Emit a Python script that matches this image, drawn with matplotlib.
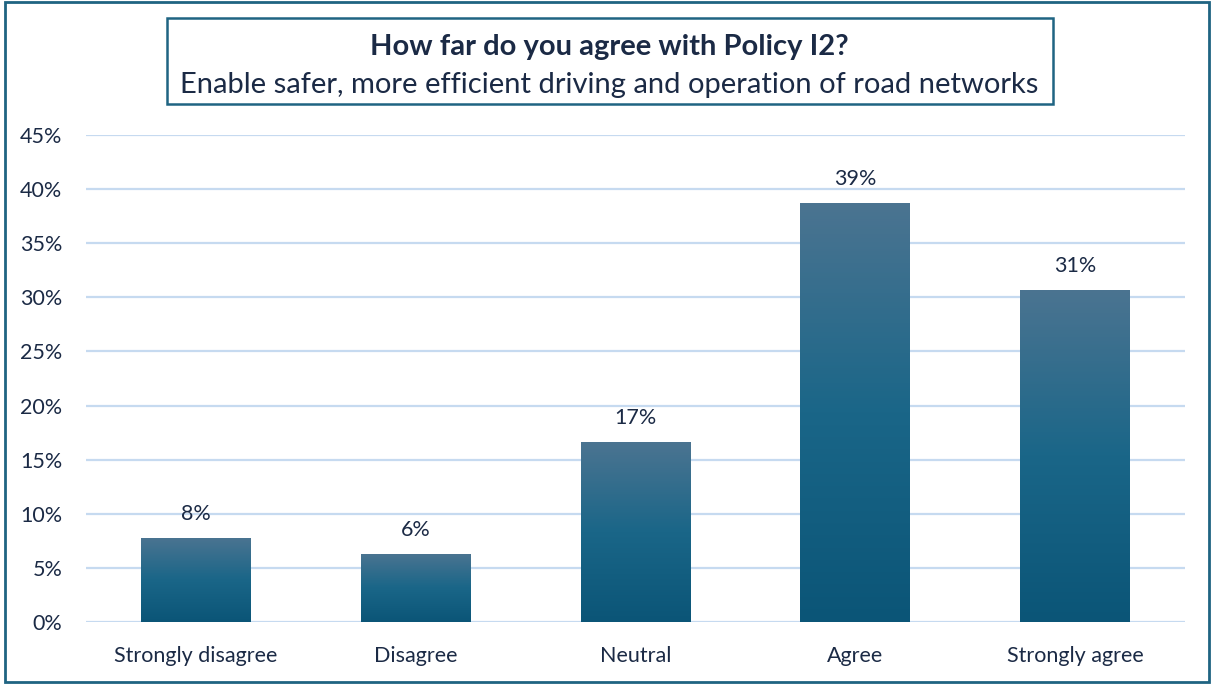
import numpy as np
import matplotlib.pyplot as plt
from matplotlib.patches import Rectangle
from matplotlib.colors import LinearSegmentedColormap
from matplotlib.ticker import FuncFormatter

categories = ['Strongly disagree', 'Disagree', 'Neutral', 'Agree', 'Strongly agree']
shares = [7.8, 6.3, 16.6, 38.7, 30.7]
y_ticks = [0, 5, 10, 15, 20, 25, 30, 35, 40, 45]

title = 'How far do you agree with Policy I2?'
subtitle = 'Enable safer, more efficient driving and operation of road networks'

text_col = '#1b2a45'
frame_col = '#1f6482'
grid_col = '#c6daf0'
bar_cmap = LinearSegmentedColormap.from_list('bars', ['#0b5577', '#1a6688', '#4b7491'])

plt.rcParams['font.family'] = ['Lato', 'DejaVu Sans']

fig = plt.figure(figsize=(12.13, 6.84), dpi=100)
fig.patches.append(Rectangle((0.004, 0.003), 0.993, 0.994, transform=fig.transFigure,
                             fill=False, edgecolor=frame_col, linewidth=2))

ax = fig.add_axes([0.0709, 0.0906, 0.906, 0.712])
x = np.arange(len(categories))
bars = ax.bar(x, shares, width=0.5, color='none', zorder=2)

# vertical gradient inside each bar
grad = np.linspace(0, 1, 256).reshape(-1, 1)
for b in bars:
    x0, y0 = b.get_x(), b.get_y()
    w, h = b.get_width(), b.get_height()
    im = ax.imshow(grad, cmap=bar_cmap, origin='lower', aspect='auto',
                   extent=(x0, x0 + w, y0, y0 + h), zorder=2)
    im.set_clip_path(b)
    ax.text(x0 + w / 2, h + 1.3, f'{h:.0f}%', ha='center', va='bottom',
            fontsize=15.5, color=text_col)

ax.set_xlim(-0.5, len(categories) - 0.5)
ax.set_ylim(0, 45)
ax.set_yticks(y_ticks)
ax.yaxis.set_major_formatter(FuncFormatter(lambda v, p: f'{v:.0f}%'))
ax.set_xticks(x)
ax.set_xticklabels(categories)
ax.tick_params(axis='both', length=0, labelsize=15.5, labelcolor=text_col)
ax.tick_params(axis='y', pad=17)
ax.tick_params(axis='x', pad=17)
ax.grid(axis='y', color=grid_col, linewidth=1.6, zorder=0)
ax.set_axisbelow(True)
for s in ax.spines.values():
    s.set_visible(False)

fig.patches.append(Rectangle((0.1373, 0.848), 0.731, 0.125, transform=fig.transFigure,
                             fill=False, edgecolor=frame_col, linewidth=1.8))
fig.text(0.5025, 0.931, title, ha='center', va='center', fontsize=21,
         fontweight='bold', color=text_col)
fig.text(0.5025, 0.876, subtitle, ha='center', va='center', fontsize=21,
         color=text_col)

fig.savefig('out.png', dpi=100)
